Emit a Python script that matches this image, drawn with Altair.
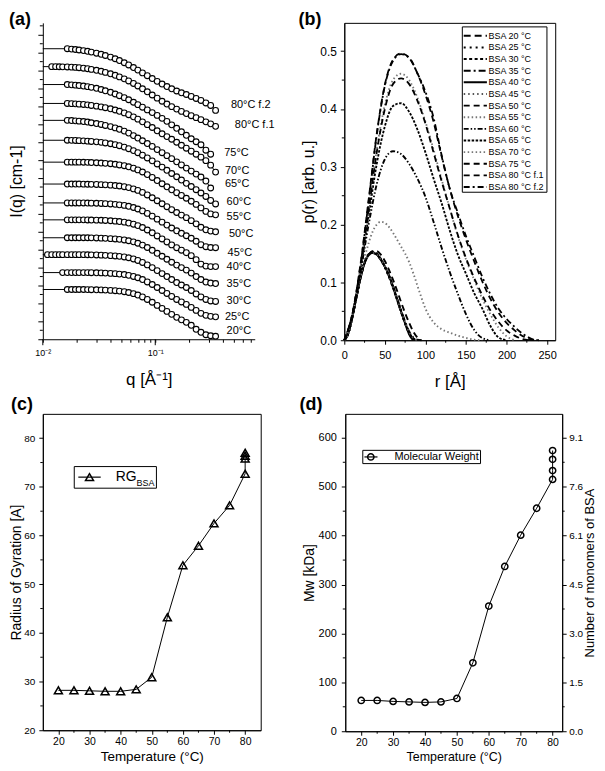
import altair as alt
import pandas as pd

FONT = "Liberation Sans"
N = None

# ---------------- panel (a): SAXS curves (stacked, arbitrary offset units) ----------------
a_q = [0.011, 0.012, 0.013, 0.014, 0.015, 0.0165, 0.018, 0.0195, 0.021, 0.023,
       0.025, 0.027, 0.030, 0.033, 0.036, 0.040, 0.044, 0.048, 0.053, 0.058,
       0.064, 0.070, 0.077, 0.085, 0.094, 0.104, 0.115, 0.127, 0.140, 0.155,
       0.171, 0.189, 0.209, 0.231, 0.255, 0.282, 0.311, 0.344]
a_names = ["20°C", "25°C", "30°C", "35°C", "40°C", "45°C", "50°C", "55°C",
           "60°C", "65°C", "70°C", "75°C", "80°C f.1", "80°C f.2"]
a_start = [50, 67, 85, 102, 120, 137, 156, 178, 200, 220, 237, 256, 274, 292]
a_drop = [
    [N, N, N, N, N, 0, 0, 0, 0, 0, 0.1, 0.2, 0.3, 0.4, 0.6, 0.9, 1.2, 1.6, 2.2, 3.0,
     4.2, 5.6, 7.5, 10, 12.8, 16, 19, 22, 25, 28, 30.5, 33, 36, 40, 43, 45.5, 46.5, 47],
    [N, N, N, N, 0, 0, 0, 0, 0, 0, 0, 0.1, 0.2, 0.3, 0.5, 0.8, 1.1, 1.5, 2.0, 2.8,
     3.9, 5.2, 7, 9.4, 12, 15, 18, 21, 24, 27, 29.5, 32, 35, 38, 41, 43, 44, 44.5],
    [0, 0, 0, 0, 0, 0, 0, 0, 0, 0, 0.1, 0.2, 0.3, 0.5, 0.7, 1.0, 1.3, 1.7, 2.3, 3.1,
     4.3, 5.8, 7.8, 10.3, 13, 16, 19, 22, 25, 28, 30.5, 33, 36, 39.5, 42.5, 45, 46.5, 47],
    [N, N, N, N, N, 0, 0, 0, 0, 0, 0, 0.1, 0.2, 0.4, 0.6, 0.9, 1.2, 1.6, 2.2, 3.0,
     4.1, 5.5, 7.4, 9.8, 12.6, 15.6, 18.6, 21.6, 24.6, 27.5, 30, 32.5, 35.5, 39, 42, 44.5, 45.5, 46],
    [N, N, N, N, N, 0, 0, 0, 0, 0, 0.1, 0.2, 0.3, 0.4, 0.6, 0.9, 1.3, 1.7, 2.3, 3.2,
     4.4, 5.8, 7.7, 10.2, 13, 16.2, 19.2, 22.2, 25.2, 28, 30.5, 33, 36, 40, 44.5, 46.5, 47, 47],
    [N, N, N, N, N, 0, 0, 0, 0, 0, 0.1, 0.2, 0.3, 0.5, 0.7, 1.0, 1.4, 1.9, 2.5, 3.4,
     4.6, 6.1, 8, 10.5, 13.3, 16.3, 19.3, 22.3, 25.2, 28, 30.5, 33, 35.5, 38.5, 42, 44, 44.8, 45],
    [N, N, N, N, N, 0, 0, 0, 0, 0.1, 0.2, 0.3, 0.4, 0.6, 0.8, 1.1, 1.5, 2.0, 2.7, 3.6,
     4.9, 6.4, 8.4, 11, 13.8, 16.8, 19.8, 22.8, 25.8, 28.6, 31.2, 33.8, 36.8, 40, 43.5, 46, 47.3, 48],
    [N, N, N, N, N, 0, 0, 0, 0, 0.1, 0.2, 0.4, 0.6, 0.9, 1.2, 1.6, 2.1, 2.8, 3.6, 4.7,
     6.1, 7.8, 9.9, 12.5, 15.4, 18.5, 21.7, 24.8, 27.8, 30.7, 33.5, 36.3, 39.3, 42.5, 46, 49.5, 52, 53],
    [N, N, N, N, N, 0, 0.1, 0.2, 0.4, 0.6, 0.9, 1.2, 1.6, 2.1, 2.7, 3.5, 4.4, 5.5, 6.9, 8.5,
     10.4, 12.5, 15, 17.8, 20.7, 23.8, 27, 30.2, 33.4, 36.7, 40, 43.3, 46.5, 49.7, 53, 56.5, 60.5, 64],
    [N, N, N, N, N, 0, 0.2, 0.5, 0.8, 1.2, 1.7, 2.4, 3.2, 4.1, 5.1, 6.3, 7.6, 9.0, 10.8, 12.8,
     15.3, 17.8, 20.5, 23.3, 26.2, 29.4, 32.5, 35.5, 38.5, 41.7, 44.8, 48, 51, 54, 57, 61, 68, N],
    [N, N, N, N, N, 0, 0.2, 0.4, 0.7, 1.0, 1.4, 2.0, 2.7, 3.5, 4.3, 5.4, 6.6, 7.9, 9.5, 11.3,
     13.5, 15.8, 18.5, 21.3, 24.2, 27.5, 30.5, 33.3, 36, 39, 42, 45, 48, 51, 54, 57.5, 62, 69],
    [N, N, N, N, N, 0, 0.3, 0.6, 1.0, 1.5, 2.1, 2.8, 3.8, 5, 6.3, 7.8, 9.5, 11.2, 13.2, 15.3,
     17.8, 20.2, 22.8, 25.5, 28.2, 31, 34, 37, 40.5, 44, 47.5, 51, 54.5, 57.5, 60.5, 66, 70, N],
    [N, 0, 0, 0.1, 0.2, 0.3, 0.5, 0.8, 1.1, 1.6, 2.1, 2.8, 3.7, 4.7, 5.8, 7.2, 8.7, 10.3, 12.3, 14.4,
     16.9, 19.4, 22.3, 25.3, 28.5, 31.7, 34.8, 37.6, 40.2, 42.7, 45, 47.2, 49.3, 51.3, 53.3, 55.5, 57.5, 60],
    [N, N, N, N, N, 0, 0.4, 0.8, 1.3, 1.9, 2.6, 3.4, 4.5, 5.6, 6.8, 8.4, 10.1, 11.9, 14.1, 16.3,
     18.9, 21.5, 24.3, 27.1, 30, 32.8, 35.5, 38, 40.3, 42.5, 44.3, 46, 48, 50, 52, 54.5, 57, 62],
]
# curve label anchors (annotation)
a_lab_q = [0.431, 0.4165, 0.431, 0.431, 0.431, 0.440, 0.452, 0.431, 0.431, 0.4165, 0.4165, 0.411, 0.5105, 0.4706]
a_lab_v = [8, 22, 38, 55.3, 73, 87, 105.7, 123, 138, 156.3, 169, 187, 215.7, 235.3]
a_xticks = [0.01, 0.02, 0.03, 0.04, 0.05, 0.06, 0.07, 0.08, 0.09,
            0.1, 0.2, 0.3, 0.4, 0.5, 0.6, 0.7]
a_xmajor = [0.01, 0.1]
a_yticks = list(range(0, 319, 18))
a_yminor = list(range(9, 319, 18))

# ---------------- panel (b): p(r) ----------------
b_names = ["BSA 20 °C", "BSA 25 °C", "BSA 30 °C", "BSA 35 °C", "BSA 40 °C", "BSA 45 °C",
           "BSA 50 °C", "BSA 55 °C", "BSA 60 °C", "BSA 65 °C", "BSA 70 °C", "BSA 75 °C",
           "BSA 80 °C f.1", "BSA 80 °C f.2"]
r_native = [0, 5, 10, 15, 20, 25, 30, 35, 40, 45, 50, 55, 60, 65, 70, 75, 80, 85, 90, 95]
r_mid = [0, 5, 10, 15, 20, 25, 30, 35, 40, 45, 50, 55, 60, 65, 70, 75, 80, 85, 90, 95,
         100, 105, 110, 115, 120, 130, 140, 150, 160, 170]
r_wide = [0, 10, 20, 30, 40, 50, 60, 70, 80, 90, 100, 110, 120, 130, 140, 150, 160, 170,
          180, 190, 200, 210, 220, 230, 240]
p20 = [0, 0.012, 0.041, 0.075, 0.108, 0.134, 0.148, 0.152, 0.149, 0.140, 0.127, 0.111, 0.092, 0.071, 0.050, 0.030, 0.013, 0.003, 0, N]
p25 = [0, 0.012, 0.040, 0.074, 0.107, 0.133, 0.147, 0.151, 0.148, 0.139, 0.126, 0.110, 0.091, 0.070, 0.049, 0.029, 0.012, 0.002, 0, N]
p30 = [0, 0.012, 0.041, 0.076, 0.109, 0.135, 0.149, 0.153, 0.150, 0.141, 0.127, 0.110, 0.091, 0.070, 0.049, 0.029, 0.012, 0.003, 0, N]
p35 = [0, 0.012, 0.040, 0.075, 0.108, 0.134, 0.148, 0.152, 0.149, 0.140, 0.128, 0.112, 0.094, 0.073, 0.052, 0.032, 0.015, 0.005, 0.001, 0]
p40 = [0, 0.012, 0.040, 0.075, 0.108, 0.134, 0.147, 0.151, 0.148, 0.139, 0.127, 0.113, 0.094, 0.072, 0.050, 0.029, 0.010, 0, N, N]
p45 = [0, 0.012, 0.041, 0.075, 0.108, 0.133, 0.147, 0.151, 0.148, 0.140, 0.128, 0.112, 0.093, 0.072, 0.051, 0.031, 0.014, 0.004, 0, N]
p50 = [0, 0.012, 0.040, 0.074, 0.107, 0.133, 0.148, 0.154, 0.154, 0.148, 0.137, 0.122, 0.105, 0.086, 0.066, 0.047, 0.030, 0.015, 0.005, 0]
p55 = [0, 0.012, 0.040, 0.075, 0.110, 0.142, 0.168, 0.188, 0.200, 0.205, 0.203, 0.196, 0.186, 0.174, 0.162,
       0.150, 0.135, 0.116, 0.095, 0.074, 0.055, 0.041, 0.031, 0.024, 0.019, 0.013, 0.008, 0.004, 0.001, 0]
p60 = [0, 0.043, 0.118, 0.200, 0.270, 0.313, 0.327, 0.322, 0.305, 0.280, 0.248, 0.205, 0.160, 0.118, 0.080,
       0.045, 0.018, 0.004, 0, N, N, N, N, N, N]
p65 = [0, 0.044, 0.122, 0.215, 0.305, 0.370, 0.405, 0.410, 0.395, 0.365, 0.325, 0.280, 0.237, 0.190, 0.148,
       0.115, 0.082, 0.055, 0.025, 0.005, 0, N, N, N, N]
p70 = [0, 0.045, 0.127, 0.228, 0.330, 0.407, 0.450, 0.461, 0.450, 0.420, 0.378, 0.330, 0.278, 0.228, 0.180,
       0.140, 0.105, 0.072, 0.045, 0.022, 0.007, 0, N, N, N]
p75 = [0, 0.044, 0.125, 0.225, 0.325, 0.400, 0.443, 0.453, 0.443, 0.415, 0.375, 0.325, 0.275, 0.228, 0.182,
       0.142, 0.108, 0.078, 0.052, 0.032, 0.017, 0.008, 0.002, 0, N]
p80a = [0, 0.046, 0.132, 0.243, 0.357, 0.442, 0.485, 0.496, 0.489, 0.462, 0.425, 0.378, 0.318, 0.262, 0.215,
        0.174, 0.137, 0.102, 0.072, 0.048, 0.030, 0.017, 0.007, 0.001, 0]
p80b = [0, 0.045, 0.130, 0.240, 0.355, 0.440, 0.483, 0.495, 0.488, 0.462, 0.430, 0.385, 0.320, 0.262, 0.220,
        0.180, 0.145, 0.110, 0.080, 0.055, 0.037, 0.023, 0.011, 0.003, 0]
b_r = [r_native, r_native, r_native, r_native, r_native, r_native, r_native, r_mid,
       r_wide, r_wide, r_wide, r_wide, r_wide, r_wide]
b_p = [p20, p25, p30, p35, p40, p45, p50, p55, p60, p65, p70, p75, p80a, p80b]
b_dash = [[7, 4], [2, 4], [3, 2.5], [7, 3, 2, 3], [1, 0], [1.5, 3], [6, 4], [1.5, 2.5],
          [5, 2, 1.5, 2, 1.5, 2], [2.5, 1.5], [1.5, 2.5], [6, 4], [6, 4], [6, 3, 2, 3]]
b_color = ["black", "black", "black", "black", "black", "#555555", "black", "#777777",
           "black", "black", "#777777", "black", "black", "black"]
b_width = [2.0, 1.8, 1.8, 2.0, 1.4, 1.0, 1.3, 1.0, 1.2, 1.3, 1.0, 1.3, 1.3, 1.3]

# ---------------- panel (c): radius of gyration ----------------
c_temp = [20, 25, 30, 35, 40, 45, 50, 55, 60, 65, 70, 75, 80, 80, 80, 80]
c_rg = [28.2, 28.2, 28.1, 28.0, 28.0, 28.4, 30.9, 43.2, 53.9, 57.9, 62.5, 66.2, 72.7, 75.8, 76.4, 77.0]

# ---------------- panel (d): molecular weight ----------------
d_temp = [20, 25, 30, 35, 40, 45, 50, 55, 60, 65, 70, 75, 80, 80, 80, 80]
d_mw = [63, 63, 61, 60, 59, 60, 67, 140, 256, 337, 401, 456, 515, 533, 556, 574]
bsa_monomer_kda = 66


def ax(**kw):
    base = dict(domainColor="black", domainWidth=1, tickColor="black", tickWidth=1,
                labelColor="black", titleColor="black", labelFont=FONT, titleFont=FONT,
                titleFontWeight="normal", grid=False, labelFlush=False, labelOverlap=False)
    base.update(kw)
    return alt.Axis(**base)


def yminor(values, scale, axis, x1, x2):
    return alt.Chart(pd.DataFrame({"m": values})).mark_rule(color="black", strokeWidth=1).encode(
        y=alt.Y("m:Q", scale=scale, axis=axis), x=alt.value(x1), x2=alt.value(x2))


def xminor(values, scale, axis, y1, y2):
    return alt.Chart(pd.DataFrame({"m": values})).mark_rule(color="black", strokeWidth=1).encode(
        x=alt.X("m:Q", scale=scale, axis=axis), y=alt.value(y1), y2=alt.value(y2))


def letter(txt, dx, dy):
    return alt.Chart(pd.DataFrame({"t": [txt]})).mark_text(
        font=FONT, fontSize=18, fontWeight="bold", align="left", baseline="alphabetic", color="black"
    ).encode(text="t:N", x=alt.value(dx), y=alt.value(dy))


# ======== (a) ========
AW, AH = 213, 318
xa = alt.Scale(type="log", domain=[0.01, 0.767], nice=False)
ya = alt.Scale(domain=[0, 318], nice=False, zero=False)
axa_x = ax(values=a_xticks, tickSize=3, labelFontSize=9, labelPadding=6,
           labelExpr="datum.value == 0.01 ? '10⁻²' : (datum.value == 0.1 ? '10⁻¹' : '')",
           title="q [Å⁻¹]", titleFontSize=17, titleX=AW / 2, titleY=40,
           titleBaseline="middle", titleAlign="center")
axa_y = ax(values=a_yticks, labels=False, tickSize=5, title="I(q) [cm-1]", titleFontSize=16,
           titleAngle=270, titleX=-26, titleY=AH / 2, titleBaseline="middle", titleAlign="center")
pts, lns = [], []
for name, s, drops in zip(a_names, a_start, a_drop):
    lns.append({"curve": name, "q": 0.01, "v": s})
    for q, d in zip(a_q, drops):
        if d is None:
            continue
        pts.append({"curve": name, "q": q, "v": s - d})
        lns.append({"curve": name, "q": q, "v": s - d})
df_apts = pd.DataFrame(pts)
df_alns = pd.DataFrame(lns)
df_alab = pd.DataFrame({"t": a_names, "q": a_lab_q, "v": a_lab_v})

a_line = alt.Chart(df_alns).mark_line(color="black", strokeWidth=1).encode(
    x=alt.X("q:Q", scale=xa, axis=axa_x), y=alt.Y("v:Q", scale=ya, axis=axa_y), detail="curve:N")
a_pts = alt.Chart(df_apts).mark_point(
    shape="circle", filled=True, fill="white", stroke="black", strokeWidth=1.1, size=34, opacity=1
).encode(x=alt.X("q:Q", scale=xa, axis=axa_x), y=alt.Y("v:Q", scale=ya, axis=axa_y), detail="curve:N")
a_lab = alt.Chart(df_alab).mark_text(font=FONT, fontSize=11, align="left", baseline="middle", color="black").encode(
    x=alt.X("q:Q", scale=xa, axis=axa_x), y=alt.Y("v:Q", scale=ya, axis=axa_y), text="t:N")
a_xmaj = alt.Chart(pd.DataFrame({"m": a_xmajor})).mark_rule(color="black").encode(
    x=alt.X("m:Q", scale=xa, axis=axa_x), y=alt.value(AH), y2=alt.value(AH + 6))
panel_a = alt.layer(
    a_line, a_pts, a_lab, yminor(a_yminor, ya, axa_y, -3, 0), a_xmaj, letter("(a)", -34, 2)
).properties(width=AW, height=AH, view=alt.ViewBackground(stroke="transparent"))

# ======== (b) ========
BW, BH = 212, 319
xb = alt.Scale(domain=[0, 260], nice=False, zero=False)
yb = alt.Scale(domain=[0, 0.549], nice=False, zero=False)
axb_x = ax(values=[0, 50, 100, 150, 200, 250], tickSize=4, labelFontSize=11, labelPadding=5,
           title="r [Å]", titleFontSize=17, titleX=BW / 2, titleY=41, titleBaseline="middle", titleAlign="center")
axb_y = ax(values=[0, 0.1, 0.2, 0.3, 0.4, 0.5], format=".1f", tickSize=4, labelFontSize=12, labelPadding=4,
           title="p(r) [arb. u.]", titleFontSize=16, titleAngle=270, titleX=-36, titleY=BH / 2,
           titleBaseline="middle", titleAlign="center")
rows = []
for name, rr, pp in zip(b_names, b_r, b_p):
    for r, p in zip(rr, pp):
        if p is None:
            continue
        rows.append({"series": name, "r": r, "p": p})
df_b = pd.DataFrame(rows)
dash_enc = alt.StrokeDash("series:N", scale=alt.Scale(domain=b_names, range=b_dash), legend=None)
col_enc = alt.Color("series:N", scale=alt.Scale(domain=b_names, range=b_color), legend=None)
wid_enc = alt.StrokeWidth("series:N", scale=alt.Scale(domain=b_names, range=b_width), legend=None)
b_lines = alt.Chart(df_b).mark_line(interpolate="monotone").encode(
    x=alt.X("r:Q", scale=xb, axis=axb_x), y=alt.Y("p:Q", scale=yb, axis=axb_y),
    strokeDash=dash_enc, color=col_enc, strokeWidth=wid_enc, detail="series:N")
# legend (manual, placed in the panel's data coordinates)
leg_i = list(range(len(b_names)))
df_bleg = pd.DataFrame({"series": b_names,
                        "r1": [147.2] * 14, "r2": [175.8] * 14, "rt": [177.9] * 14,
                        "p": [0.5266 - 0.02012 * i for i in leg_i]})
b_box = alt.Chart(pd.DataFrame({"x1": [145.5], "x2": [249.8], "y1": [0.256], "y2": [0.542]})).mark_rect(
    fill="white", stroke="black", strokeWidth=1).encode(
    x=alt.X("x1:Q", scale=xb, axis=axb_x), x2="x2:Q", y=alt.Y("y1:Q", scale=yb, axis=axb_y), y2="y2:Q")
b_legline = alt.Chart(df_bleg).mark_rule().encode(
    x=alt.X("r1:Q", scale=xb, axis=axb_x), x2="r2:Q", y=alt.Y("p:Q", scale=yb, axis=axb_y),
    strokeDash=dash_enc, color=col_enc, strokeWidth=wid_enc)
b_legtxt = alt.Chart(df_bleg).mark_text(font=FONT, fontSize=9, align="left", baseline="middle", color="black").encode(
    x=alt.X("rt:Q", scale=xb, axis=axb_x), y=alt.Y("p:Q", scale=yb, axis=axb_y), text="series:N")
panel_b = alt.layer(
    b_lines, b_box, b_legline, b_legtxt,
    xminor([25, 75, 125, 175, 225], xb, axb_x, BH, BH + 2.5),
    yminor([0.05, 0.15, 0.25, 0.35, 0.45], yb, axb_y, -2.5, 0),
    letter("(b)", -46, 2)
).properties(width=BW, height=BH)

# ======== (c) ========
CW, CH = 219, 318
xc = alt.Scale(domain=[15, 85], nice=False, zero=False)
yc = alt.Scale(domain=[20, 85], nice=False, zero=False)
axc_x = ax(values=[20, 30, 40, 50, 60, 70, 80], tickSize=4, labelFontSize=10.5, labelPadding=2.5,
           title="Temperature (°C)", titleFontSize=13.5, titleX=CW / 2, titleY=26,
           titleBaseline="middle", titleAlign="center")
axc_y = ax(values=[20, 30, 40, 50, 60, 70, 80], tickSize=4, labelFontSize=10, labelPadding=4,
           title="Radius of Gyration [A]", titleFontSize=14, titleAngle=270, titleX=-26, titleY=CH / 2,
           titleBaseline="middle", titleAlign="center")
df_c = pd.DataFrame({"T": c_temp, "RG": c_rg, "i": list(range(len(c_temp)))})
c_line = alt.Chart(df_c).mark_line(color="black", strokeWidth=1).encode(
    x=alt.X("T:Q", scale=xc, axis=axc_x), y=alt.Y("RG:Q", scale=yc, axis=axc_y), order="i:Q")
c_pts = alt.Chart(df_c).mark_point(shape="triangle-up", filled=False, color="black", strokeWidth=1.5,
                                    size=65, opacity=1).encode(
    x=alt.X("T:Q", scale=xc, axis=axc_x), y=alt.Y("RG:Q", scale=yc, axis=axc_y))
c_box = alt.Chart(pd.DataFrame({"x1": [25.1], "x2": [51.5], "y1": [69.73], "y2": [74.17]})).mark_rect(
    fill="white", stroke="black", strokeWidth=1).encode(
    x=alt.X("x1:Q", scale=xc, axis=axc_x), x2="x2:Q", y=alt.Y("y1:Q", scale=yc, axis=axc_y), y2="y2:Q")
c_legline = alt.Chart(pd.DataFrame({"x1": [26.4], "x2": [33.6], "y": [72.0]})).mark_rule(
    color="black", strokeWidth=1.2).encode(
    x=alt.X("x1:Q", scale=xc, axis=axc_x), x2="x2:Q", y=alt.Y("y:Q", scale=yc, axis=axc_y))
c_legpt = alt.Chart(pd.DataFrame({"x": [30.0], "y": [72.0]})).mark_point(
    shape="triangle-up", filled=False, color="black", strokeWidth=1.5, size=65, opacity=1).encode(
    x=alt.X("x:Q", scale=xc, axis=axc_x), y=alt.Y("y:Q", scale=yc, axis=axc_y))
c_legtxt = alt.Chart(pd.DataFrame({"x": [38.4, 45.1], "y": [72.0, 70.75], "t": ["RG", "BSA"],
                                   "fs": [14, 9]})).mark_text(
    font=FONT, align="left", baseline="middle", color="black").encode(
    x=alt.X("x:Q", scale=xc, axis=axc_x), y=alt.Y("y:Q", scale=yc, axis=axc_y), text="t:N",
    size=alt.Size("fs:Q", scale=None, legend=None))
panel_c = alt.layer(
    c_box, c_legline, c_legpt, c_legtxt, c_line, c_pts,
    xminor([25, 35, 45, 55, 65, 75], xc, axc_x, CH, CH + 2.5),
    yminor([25, 35, 45, 55, 65, 75], yc, axc_y, -2.5, 0),
    letter("(c)", -32, -4)
).properties(width=CW, height=CH)

# ======== (d) ========
DW, DH = 218, 319
xd = alt.Scale(domain=[15, 83], nice=False, zero=False)
yd = alt.Scale(domain=[0, 649], nice=False, zero=False)
d_ticks = [0, 100, 200, 300, 400, 500, 600]
axd_x = ax(values=[20, 30, 40, 50, 60, 70, 80], tickSize=4, labelFontSize=10.5, labelPadding=2,
           title="Temperature (°C)", titleFontSize=12.5, titleX=DW / 2, titleY=25,
           titleBaseline="middle", titleAlign="center")
axd_y = ax(orient="left", values=d_ticks, tickSize=4, labelFontSize=11, labelPadding=5,
           title="Mw [kDa]", titleFontSize=14, titleAngle=270, titleX=-36, titleY=DH / 2,
           titleBaseline="middle", titleAlign="center")
axd_r = ax(orient="right", values=d_ticks, tickSize=4, labelFontSize=10, labelPadding=2.5,
           labelExpr=f"format(datum.value / {bsa_monomer_kda}, '.1f')",
           title="Number of monomers of BSA", titleFontSize=13, titleAngle=270, titleX=27,
           titleY=DH / 2, titleBaseline="middle", titleAlign="center")
df_d = pd.DataFrame({"T": d_temp, "Mw": d_mw, "i": list(range(len(d_temp)))})
d_line = alt.Chart(df_d).mark_line(color="black", strokeWidth=1).encode(
    x=alt.X("T:Q", scale=xd, axis=axd_x), y=alt.Y("Mw:Q", scale=yd, axis=axd_y), order="i:Q")
d_pts = alt.Chart(df_d).mark_point(shape="circle", filled=False, color="black", strokeWidth=1.5,
                                    size=40, opacity=1).encode(
    x=alt.X("T:Q", scale=xd, axis=axd_x), y=alt.Y("Mw:Q", scale=yd, axis=axd_y))
d_box = alt.Chart(pd.DataFrame({"x1": [20.49], "x2": [57.4], "y1": [547.3], "y2": [574.4]})).mark_rect(
    fill="white", stroke="black", strokeWidth=1).encode(
    x=alt.X("x1:Q", scale=xd, axis=axd_x), x2="x2:Q", y=alt.Y("y1:Q", scale=yd, axis=axd_y), y2="y2:Q")
d_legline = alt.Chart(pd.DataFrame({"x1": [21.0], "x2": [25.1], "y": [560.9]})).mark_rule(
    color="black", strokeWidth=1.2).encode(
    x=alt.X("x1:Q", scale=xd, axis=axd_x), x2="x2:Q", y=alt.Y("y:Q", scale=yd, axis=axd_y))
d_legpt = alt.Chart(pd.DataFrame({"x": [23.0], "y": [560.9]})).mark_point(
    shape="circle", filled=False, color="black", strokeWidth=1.5, size=40, opacity=1).encode(
    x=alt.X("x:Q", scale=xd, axis=axd_x), y=alt.Y("y:Q", scale=yd, axis=axd_y))
d_legtxt = alt.Chart(pd.DataFrame({"x": [30.4], "y": [560.9], "t": ["Molecular Weight"]})).mark_text(
    font=FONT, fontSize=11, align="left", baseline="middle", color="black").encode(
    x=alt.X("x:Q", scale=xd, axis=axd_x), y=alt.Y("y:Q", scale=yd, axis=axd_y), text="t:N")
d_main = alt.layer(
    d_box, d_legline, d_legpt, d_legtxt, d_line, d_pts,
    xminor([25, 35, 45, 55, 65, 75], xd, axd_x, DH, DH + 2.5),
    yminor([50, 150, 250, 350, 450, 550], yd, axd_y, -2.5, 0),
    yminor([50, 150, 250, 350, 450, 550], yd, axd_y, DW, DW + 2.5),
    letter("(d)", -46, -4)
)
d_right = alt.Chart(df_d).mark_point(opacity=0).encode(
    x=alt.X("T:Q", scale=xd, axis=axd_x),
    y=alt.Y("Mw:Q", scale=yd, axis=axd_r))
panel_d = alt.layer(d_main, d_right).resolve_scale(y="independent").properties(width=DW, height=DH)

row1 = alt.hconcat(panel_a, panel_b, spacing=22)
row2 = alt.hconcat(panel_c, panel_d, spacing=37)
chart = alt.vconcat(row1, row2, spacing=5).properties(
    padding={"left": 0, "top": 0, "right": 0, "bottom": 0}
).configure(font=FONT).configure_view(stroke="black", strokeWidth=1)

chart.save("out.html", embed_options={"renderer": "svg", "actions": False})
